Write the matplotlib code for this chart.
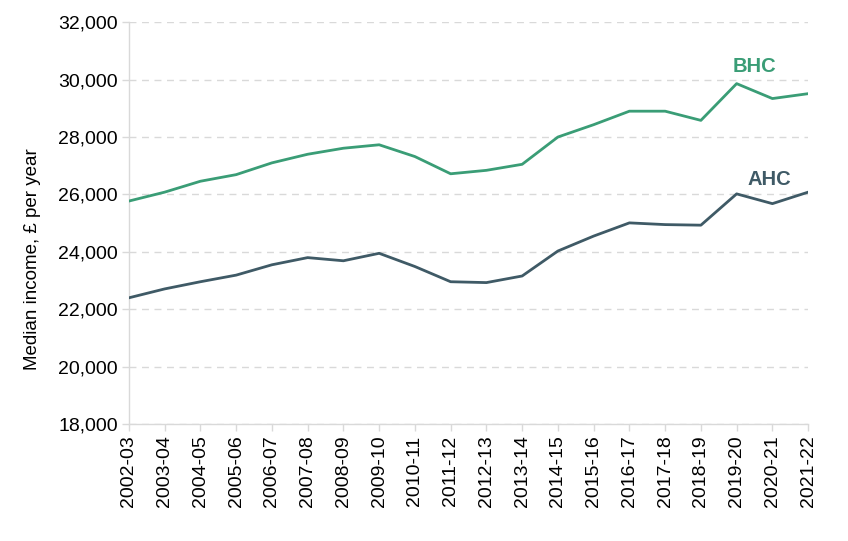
import matplotlib
matplotlib.use('Agg')
import matplotlib.pyplot as plt

years = ['2002-03', '2003-04', '2004-05', '2005-06', '2006-07', '2007-08',
         '2008-09', '2009-10', '2010-11', '2011-12', '2012-13', '2013-14',
         '2014-15', '2015-16', '2016-17', '2017-18', '2018-19', '2019-20',
         '2020-21', '2021-22']

bhc = [25770, 26080, 26460, 26690, 27100, 27400, 27610, 27730, 27320, 26720,
       26840, 27050, 28000, 28430, 28900, 28900, 28580, 29860, 29340, 29510]
ahc = [22400, 22710, 22960, 23190, 23550, 23800, 23690, 23950, 23490, 22960,
       22930, 23160, 24030, 24550, 25010, 24950, 24930, 26020, 25680, 26080]

yticks = [18000, 20000, 22000, 24000, 26000, 28000, 30000, 32000]

green = '#3a9d76'
slate = '#3f5a66'
grey = '#d9d9d9'

plt.rcParams['font.family'] = ['Liberation Sans', 'DejaVu Sans']

fig = plt.figure(figsize=(8.48, 5.41), dpi=100)
ax = fig.add_axes([0.152, 0.216, 0.801, 0.743])

x = list(range(len(years)))
ax.plot(x, bhc, color=green, lw=2.0, solid_joinstyle='round', zorder=3)
ax.plot(x, ahc, color=slate, lw=2.0, solid_joinstyle='round', zorder=3)

ax.text(17.5, 30450, 'BHC', color=green, fontsize=14.5, fontweight='bold',
        ha='center', va='center')
ax.text(17.9, 26520, 'AHC', color=slate, fontsize=14.5, fontweight='bold',
        ha='center', va='center')

ax.set_xlim(0, len(years) - 1)
ax.set_ylim(18000, 32000)
ax.set_yticks(yticks)
ax.set_yticklabels([f'{v:,}' for v in yticks])
ax.set_xticks(x)
ax.set_xticklabels(years, rotation=90)

ax.grid(axis='y', color=grey, ls=(0, (5, 4)), lw=1.0, zorder=0)
for s in ['top', 'right']:
    ax.spines[s].set_visible(False)
for s in ['left', 'bottom']:
    ax.spines[s].set_color(grey)
    ax.spines[s].set_linewidth(1.0)
ax.tick_params(axis='both', colors=grey, labelcolor='black', labelsize=14,
               length=5, width=1.0)
ax.tick_params(axis='y', pad=3)
ax.tick_params(axis='x', pad=3)

ax.set_ylabel('Median income, £ per year', fontsize=13.5)
ax.yaxis.set_label_coords(-0.13, 0.41)

fig.savefig('out.png', dpi=100)
